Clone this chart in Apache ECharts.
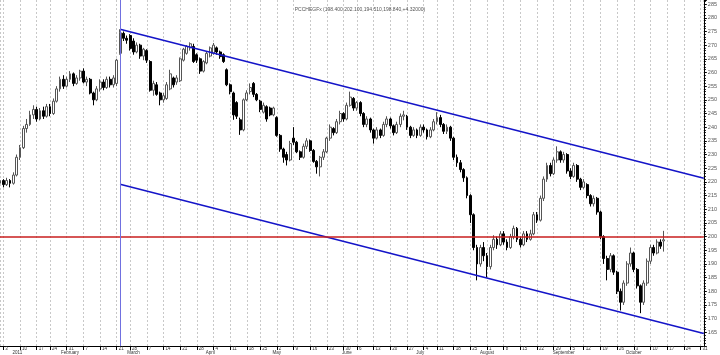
<!DOCTYPE html>
<html>
<head>
<meta charset="utf-8">
<script src="https://cdn.jsdelivr.net/npm/echarts@6/dist/echarts.min.js"></script>
<style>
html, body { margin: 0; padding: 0; background: #fff; }
#chart { width: 720px; height: 355px; }
</style>
</head>
<body>
<div id="chart"></div>
<script>
var titleText = 'PCCHEGFx (198.400,202.100,194.510,198.840,+4.32000)';
var monthNames = ['2011', 'February', 'March', 'April', 'May', 'June', 'July', 'August', 'September', 'October', '', ''];
var holidays = ['2011-01-17', '2011-02-21', '2011-04-22', '2011-05-30', '2011-07-04', '2011-09-05', '2011-11-24'];
var slotCount = 212;

// [open, close, low, high]
var candles = [
	[219.5, 220.5, 218.5, 221.5], [220.5, 219.0, 218.0, 221.0], [219.0, 220.5, 218.5, 221.5], [220.5, 219.5, 218.0, 221.0],
	[219.5, 222.5, 219.0, 223.5], [222.5, 229.0, 222.0, 230.0], [229.0, 232.5, 228.0, 233.5], [232.5, 239.5, 232.0, 240.5],
	[239.5, 241.0, 238.0, 243.0], [241.0, 244.5, 240.5, 246.0], [244.5, 246.5, 243.0, 248.0], [246.5, 243.0, 242.0, 247.5],
	[243.0, 246.0, 242.5, 247.0], [246.0, 244.0, 243.0, 247.5], [244.0, 247.5, 243.5, 248.5], [247.5, 245.0, 244.0, 248.5],
	[245.0, 249.5, 244.5, 250.5], [249.5, 254.0, 249.0, 255.0], [254.0, 257.5, 253.0, 258.5], [257.5, 255.0, 254.0, 259.0],
	[255.0, 257.5, 254.5, 258.5], [257.5, 259.5, 256.5, 260.5], [259.5, 256.0, 255.0, 260.0], [256.0, 258.0, 255.5, 259.0],
	[258.0, 260.5, 257.0, 261.0], [260.5, 256.5, 256.0, 261.5], [256.5, 257.5, 255.0, 258.5], [257.5, 252.5, 252.0, 258.0],
	[252.5, 250.0, 248.0, 253.0], [250.0, 254.0, 249.5, 255.0], [254.0, 256.5, 253.0, 257.5], [256.5, 254.5, 253.5, 257.5],
	[254.5, 257.5, 254.0, 258.5], [257.5, 255.5, 254.5, 258.5], [255.5, 258.0, 254.5, 259.0], [256.0, 264.5, 255.0, 265.0],
	[267.0, 274.5, 266.5, 275.8], [274.3, 272.5, 271.5, 275.0], [272.5, 271.8, 270.5, 273.5], [273.5, 268.8, 268.0, 274.0],
	[271.5, 267.5, 266.5, 272.5], [267.5, 270.0, 267.0, 271.0], [270.0, 266.0, 265.0, 270.5], [266.0, 268.5, 264.5, 269.0],
	[268.0, 264.5, 263.5, 268.5], [264.0, 253.5, 253.0, 264.5], [253.5, 256.0, 251.5, 257.0], [255.5, 252.0, 251.5, 256.5],
	[252.5, 250.0, 248.0, 253.0], [250.0, 251.5, 249.0, 252.5], [250.5, 255.5, 250.0, 256.5], [254.0, 259.5, 253.5, 261.0],
	[258.0, 255.5, 254.5, 258.5], [256.5, 258.0, 255.5, 259.0], [257.0, 265.0, 256.5, 265.5], [264.5, 268.5, 264.0, 269.0],
	[267.0, 269.5, 266.5, 270.0], [269.0, 270.5, 268.0, 271.0], [269.5, 264.0, 263.5, 270.5], [266.5, 264.5, 263.5, 267.0],
	[265.0, 260.5, 259.5, 265.5], [260.5, 264.0, 260.0, 264.5], [263.5, 267.0, 263.0, 267.5], [266.0, 269.0, 265.5, 269.5],
	[267.0, 270.0, 266.5, 270.8], [269.0, 267.5, 266.5, 269.5], [267.5, 265.8, 265.0, 268.0], [266.5, 264.0, 263.5, 267.0],
	[261.0, 255.5, 255.0, 261.5], [255.5, 253.0, 252.0, 256.0], [252.5, 244.5, 242.7, 253.0], [249.0, 244.0, 243.0, 249.5],
	[242.7, 239.0, 237.2, 243.5], [239.0, 250.0, 238.5, 250.5], [250.0, 252.5, 249.5, 253.5], [253.0, 254.5, 252.0, 256.0],
	[256.0, 252.0, 251.0, 256.5], [252.0, 250.0, 249.5, 252.5], [249.5, 246.5, 245.5, 250.0], [245.5, 248.0, 245.0, 249.0],
	[247.5, 243.0, 242.0, 248.0], [247.0, 244.5, 244.0, 247.5], [244.5, 247.0, 244.0, 247.5], [243.5, 237.0, 236.5, 244.0],
	[237.0, 232.0, 231.0, 237.5], [232.0, 229.0, 227.0, 232.5], [230.0, 228.0, 226.0, 231.0], [228.0, 234.0, 227.5, 235.0],
	[236.0, 234.5, 233.5, 240.0], [234.5, 231.0, 230.5, 235.0], [231.0, 229.0, 228.0, 231.5], [229.0, 233.0, 228.5, 234.0],
	[233.0, 235.0, 232.0, 236.0], [235.0, 231.5, 231.0, 235.5], [231.5, 227.5, 227.0, 232.0], [227.5, 225.5, 223.0, 228.0],
	[225.5, 229.0, 222.0, 229.5], [229.0, 231.0, 228.0, 232.0], [231.0, 236.0, 230.5, 236.5], [236.0, 240.0, 235.0, 241.0],
	[239.5, 238.0, 237.0, 240.0], [238.0, 242.0, 237.5, 243.0], [242.0, 245.0, 241.0, 246.0], [245.0, 243.0, 242.0, 245.5],
	[243.0, 248.0, 242.5, 249.0], [248.0, 251.0, 247.5, 253.0], [250.5, 247.0, 246.0, 251.0], [247.0, 249.0, 246.0, 249.5],
	[249.0, 245.0, 244.0, 249.5], [245.0, 241.0, 240.0, 245.5], [241.0, 243.0, 240.0, 244.0], [243.0, 239.0, 238.0, 243.5],
	[239.0, 236.0, 234.0, 239.5], [236.0, 239.0, 235.5, 240.0], [239.0, 237.0, 236.0, 239.5], [237.0, 241.0, 236.5, 242.0],
	[241.0, 243.0, 240.0, 244.0], [243.0, 240.5, 239.5, 243.5], [240.5, 238.0, 237.0, 241.0], [238.0, 241.0, 237.5, 242.0],
	[241.0, 244.0, 240.0, 245.0], [244.0, 244.5, 242.5, 246.0], [244.0, 240.0, 239.0, 244.5], [240.0, 237.0, 236.0, 240.5],
	[237.0, 239.0, 236.5, 240.0], [239.0, 237.0, 236.0, 239.5], [237.0, 240.0, 236.5, 241.0], [240.0, 239.0, 238.0, 241.0],
	[239.0, 236.5, 235.5, 239.5], [236.5, 239.0, 236.0, 240.0], [239.0, 242.0, 238.5, 243.0], [242.0, 243.5, 241.0, 245.5],
	[243.5, 241.0, 240.0, 244.5], [241.0, 238.5, 237.5, 241.5], [238.5, 240.0, 237.5, 241.0], [240.0, 236.0, 235.0, 240.5],
	[236.0, 229.0, 228.0, 236.5], [229.0, 227.0, 225.5, 230.0], [227.0, 224.5, 223.5, 228.0], [224.5, 221.5, 220.0, 225.0],
	[221.5, 215.0, 214.0, 222.0], [215.0, 208.0, 205.0, 215.5], [208.0, 196.0, 195.0, 208.5], [196.0, 190.0, 184.0, 197.0],
	[190.0, 196.0, 189.0, 197.0], [196.0, 193.0, 191.0, 198.0], [193.0, 189.0, 185.0, 194.0], [189.0, 196.0, 188.0, 197.0],
	[196.0, 199.0, 195.0, 200.5], [199.0, 197.0, 195.5, 200.0], [197.0, 201.0, 196.5, 202.0], [201.0, 198.0, 197.0, 202.0],
	[198.0, 196.0, 195.0, 199.0], [196.0, 200.0, 195.5, 201.0], [200.0, 203.0, 199.0, 204.0], [203.0, 199.0, 198.0, 203.5],
	[199.0, 197.0, 196.0, 200.0], [197.0, 201.0, 196.5, 202.0], [201.0, 199.0, 198.0, 202.0], [199.0, 201.0, 198.5, 202.5],
	[201.0, 208.0, 200.5, 209.0], [208.0, 206.0, 205.0, 209.0],
	[206.0, 214.0, 205.5, 215.0], [214.0, 221.0, 213.0, 222.0], [221.0, 226.0, 220.0, 227.0], [226.0, 223.0, 222.0, 227.0],
	[223.0, 228.0, 222.5, 229.0], [228.0, 231.0, 227.0, 233.0], [231.0, 228.0, 227.0, 231.5], [228.0, 230.0, 227.0, 231.0],
	[230.0, 224.0, 223.0, 230.5], [224.0, 222.0, 221.0, 225.0], [222.0, 226.0, 221.5, 227.0], [226.0, 221.0, 220.0, 226.5],
	[221.0, 218.0, 217.0, 221.5], [218.0, 220.0, 217.5, 221.0], [219.0, 215.0, 214.0, 219.5],
	[215.0, 212.0, 211.0, 215.5], [212.0, 214.0, 211.0, 215.0], [214.0, 209.0, 208.0, 214.5], [209.0, 200.0, 199.0, 209.5],
	[200.0, 192.0, 190.0, 200.5], [192.0, 188.0, 184.0, 193.0], [188.0, 193.0, 187.0, 194.0], [193.0, 187.0, 186.0, 193.5],
	[187.0, 180.0, 179.0, 187.5], [180.0, 176.0, 173.0, 181.0], [176.0, 183.0, 175.0, 184.0], [183.0, 190.0, 182.0, 191.0],
	[190.0, 194.0, 189.0, 196.0], [194.0, 188.0, 187.0, 194.5], [188.0, 182.0, 181.0, 188.5], [182.0, 176.0, 172.0, 182.5],
	[176.0, 183.0, 175.0, 184.0], [183.0, 191.0, 182.0, 192.0], [191.0, 196.0, 190.0, 197.0], [196.0, 194.0, 193.0, 197.0],
	[194.0, 198.0, 193.5, 199.0], [198.0, 196.5, 195.5, 199.0], [198.4, 198.84, 194.51, 202.1]
];

// channel drawn from the top of the peak candle
var channelFrom = 36;
var channelTo = 211;
var channelTop = [275.8, 221.3];
var channelBottom = [219.1, 164.6];
var levelLine = 200;

// trading days, weekends and exchange holidays left out
var dates = [];
var d = new Date(Date.UTC(2010, 11, 31));
while (dates.length < slotCount) {
	var s = d.toISOString().slice(0, 10);
	var wd = d.getUTCDay();
	if (wd !== 0 && wd !== 6 && holidays.indexOf(s) < 0) {
		dates.push(s);
	}
	d.setUTCDate(d.getUTCDate() + 1);
}

function dayNum(s) {
	return Math.round(Date.parse(s + 'T00:00:00Z') / 86400000);
}
function weekNum(s) {
	return Math.floor((dayNum(s) + 3) / 7);
}
function isWeekStart(i) {
	return i === 0 || weekNum(dates[i]) !== weekNum(dates[i - 1]);
}
function isMonthStart(i) {
	return i > 0 && dates[i].slice(5, 7) !== dates[i - 1].slice(5, 7);
}
function mondayOf(s) {
	var t = new Date(s + 'T00:00:00Z');
	t.setUTCDate(t.getUTCDate() - (t.getUTCDay() + 6) % 7);
	return t.getUTCDate();
}

var myChart = echarts.init(document.getElementById('chart'), null, { renderer: 'canvas' });
var option = {
	animation : false,
	backgroundColor : '#ffffff',
	textStyle : { fontFamily : 'Liberation Sans, Arial, sans-serif' },
	title : {
		text : titleText,
		left : 'center',
		top : 2,
		textStyle : { fontSize : 5, fontWeight : 'normal', color : '#555' }
	},
	grid : { left : 0, right : 15, top : 0, bottom : 8 },
	xAxis : [ {
		type : 'category',
		data : dates,
		boundaryGap : false,
		axisLine : { lineStyle : { color : '#000', width : 1 } },
		axisTick : {
			interval : function(idx) { return isWeekStart(idx); },
			length : 4,
			lineStyle : { color : '#000' }
		},
		axisLabel : {
			interval : function(idx) { return isWeekStart(idx); },
			formatter : function(v) { return String(mondayOf(v)); },
			fontSize : 4.5,
			color : '#333',
			align : 'left',
			padding : [0, 0, 0, 2],
			margin : 0
		},
		splitLine : {
			show : true,
			interval : function(idx) { return isWeekStart(idx); },
			lineStyle : { color : '#c8c8c8', type : [2, 2], width : 1 }
		}
	}, {
		type : 'category',
		data : dates,
		boundaryGap : false,
		position : 'bottom',
		offset : 4,
		axisLine : { show : false },
		axisTick : { show : false },
		splitLine : { show : false },
		axisLabel : {
			interval : function(idx) { return isMonthStart(idx); },
			formatter : function(v) {
				var m = parseInt(v.slice(5, 7), 10) - 1;
				if (m === 0) {
					return '{y|' + monthNames[0] + '}';
				}
				return monthNames[m];
			},
			rich : { y : { fontSize : 4.5, color : '#333', padding : [0, 0, 0, 28] } },
			fontSize : 4.5,
			color : '#333',
			margin : 0
		}
	} ],
	yAxis : {
		type : 'value',
		position : 'right',
		min : 160,
		max : 286.5,
		interval : 5,
		axisLine : { show : true, lineStyle : { color : '#000', width : 1 } },
		axisTick : { show : true, length : 3, lineStyle : { color : '#000' } },
		minorTick : { show : true, splitNumber : 5, length : 2, lineStyle : { color : '#000' } },
		axisLabel : {
			fontSize : 5.5,
			color : '#555',
			margin : 4,
			showMinLabel : false,
			showMaxLabel : false
		},
		splitLine : { show : false }
	},
	series : [ {
		name : 'PCCHEGFx',
		type : 'candlestick',
		data : candles.map(function(c) { return [c[0], c[1], c[2], c[3]]; }),
		barWidth : 2.4,
		itemStyle : {
			color : '#ffffff',
			color0 : '#000000',
			borderColor : '#555555',
			borderColor0 : '#000000',
			borderWidth : 1
		},
		markLine : {
			silent : true,
			symbol : ['none', 'none'],
			label : { show : false },
			lineStyle : { type : 'solid' },
			data : [
				[ { coord : [dates[channelFrom], channelTop[0]], lineStyle : { color : '#1414c8', width : 1.5, type : 'solid' } },
				  { coord : [dates[channelTo], channelTop[1]] } ],
				[ { coord : [dates[channelFrom], channelBottom[0]], lineStyle : { color : '#1414c8', width : 1.5, type : 'solid' } },
				  { coord : [dates[channelTo], channelBottom[1]] } ],
				{ yAxis : levelLine, lineStyle : { color : '#c81e1e', width : 1.5, type : 'solid' } },
				{ xAxis : dates[channelFrom], lineStyle : { color : '#7070e0', width : 1, type : 'solid' } }
			]
		}
	} ]
};
myChart.setOption(option);
</script>
</body>
</html>
